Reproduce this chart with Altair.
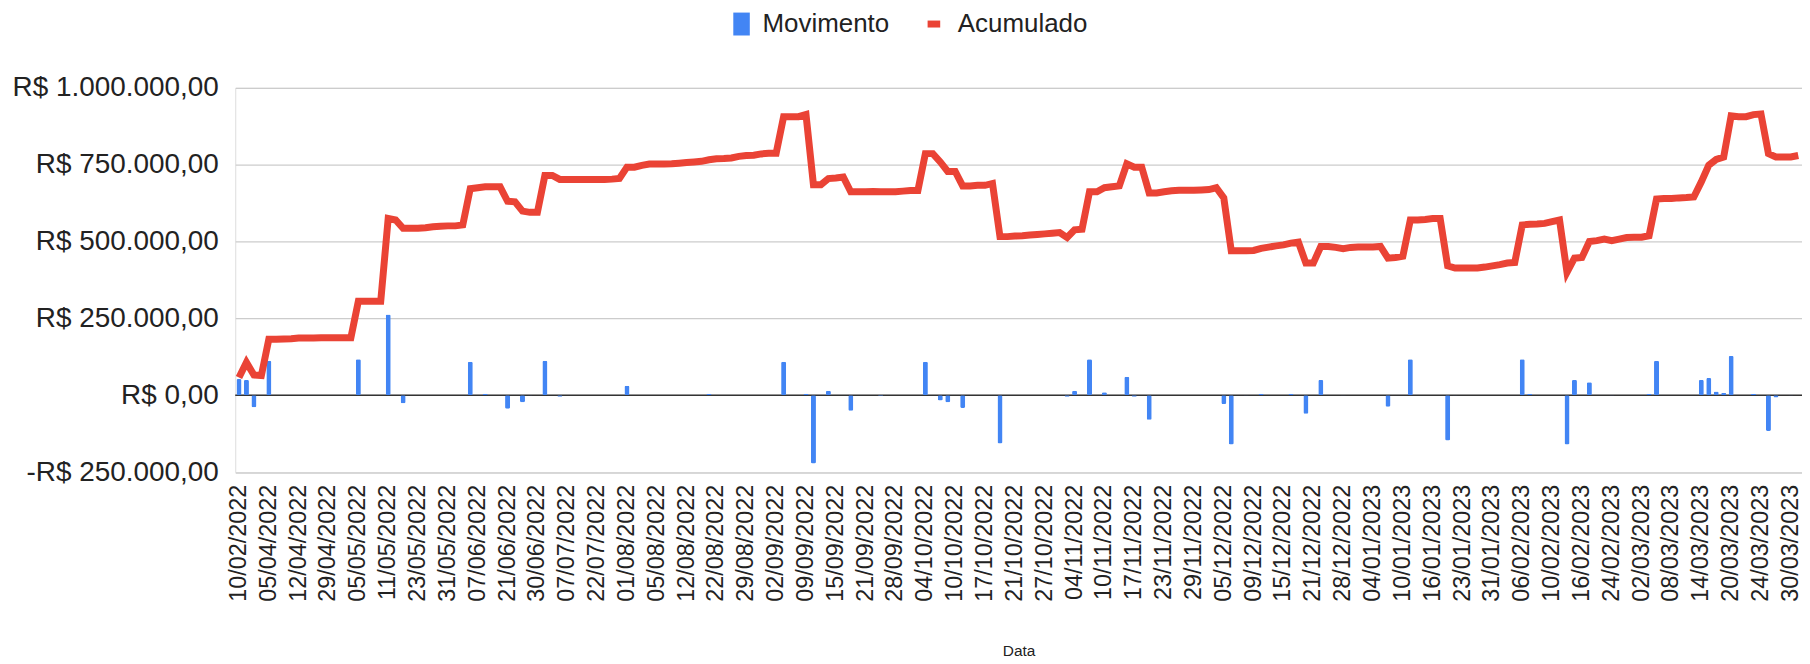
import json
import altair as alt
import pandas as pd

# ---- tick labels (every 4th category is labelled) ----
x_labels = [
    "10/02/2022", "05/04/2022", "12/04/2022", "29/04/2022", "05/05/2022", "11/05/2022",
    "23/05/2022", "31/05/2022", "07/06/2022", "21/06/2022", "30/06/2022", "07/07/2022",
    "22/07/2022", "01/08/2022", "05/08/2022", "12/08/2022", "22/08/2022", "29/08/2022",
    "02/09/2022", "09/09/2022", "15/09/2022", "21/09/2022", "28/09/2022", "04/10/2022",
    "10/10/2022", "17/10/2022", "21/10/2022", "27/10/2022", "04/11/2022", "10/11/2022",
    "17/11/2022", "23/11/2022", "29/11/2022", "05/12/2022", "09/12/2022", "15/12/2022",
    "21/12/2022", "28/12/2022", "04/01/2023", "10/01/2023", "16/01/2023", "23/01/2023",
    "31/01/2023", "06/02/2023", "10/02/2023", "16/02/2023", "24/02/2023", "02/03/2023",
    "08/03/2023", "14/03/2023", "20/03/2023", "24/03/2023", "30/03/2023",
]

y_ticks = [-250000, 0, 250000, 500000, 750000, 1000000]
y_tick_labels = ["-R$ 250.000,00", "R$ 0,00", "R$ 250.000,00",
                 "R$ 500.000,00", "R$ 750.000,00", "R$ 1.000.000,00"]

# ---- series (R$), one value per category ----
movimento = [
    53000, 50000, -39000, 0, 112000, 0, 0, 0, 0, 0,
    0, 0, 0, 0, 0, 0, 117000, 0, 0, 0,
    263000, 0, -26000, 0, 0, 0, 0, 0, 0, 0,
    0, 109000, 0, 5000, 0, 0, -44000, 0, -23000, 1000,
    0, 112000, 0, -5000, 0, 0, 0, 0, 0, 0,
    0, 0, 31000, 0, 0, 0, 0, 0, 0, 0,
    0, 0, 0, 5000, 0, 0, 0, 0, 0, 0,
    0, 0, 0, 109000, 0, 0, 5000, -222000, 0, 15000,
    0, 0, -50000, 0, 0, 0, -2000, 0, 0, 0,
    0, 0, 109000, 0, -17000, -23000, 0, -41000, 0, 0,
    0, 0, -157000, 0, 0, 0, 0, 0, 0, 0,
    0, -5000, 15000, 0, 117000, 0, 10000, 0, 0, 60000,
    -5000, 0, -80000, 0, 0, 0, 0, 0, 0, 0,
    0, 0, -28000, -160000, 0, 1000, 0, 5000, 0, 0,
    0, 5000, 0, -60000, 0, 50000, 0, 0, -1000, 0,
    0, 0, 0, 0, -37000, 0, 0, 117000, 0, 0,
    0, 0, -147000, -1000, 0, 0, 0, 0, 0, 0,
    0, 0, 117000, 5000, 0, 0, 0, 0, -160000, 50000,
    0, 42000, 0, 0, 1000, 0, 0, 0, 0, 5000,
    112000, 0, 0, 0, 0, 0, 50000, 56000, 12000, 7000,
    128000, 0, 0, 5000, 0, -116000, -7000, 0, 1000, 0,
]

acumulado = [
    58000, 107000, 66000, 64000, 182000, 182000, 183000, 184000, 186000, 186000,
    186000, 187000, 187000, 187000, 187000, 187000, 306000, 306000, 306000, 306000,
    575000, 570000, 543000, 543000, 543000, 545000, 548000, 550000, 551000, 551000,
    554000, 672000, 675000, 678000, 678000, 678000, 631000, 629000, 599000, 595000,
    595000, 715000, 715000, 702000, 702000, 702000, 702000, 702000, 702000, 702000,
    703000, 705000, 742000, 742000, 748000, 752000, 752000, 752000, 753000, 755000,
    757000, 759000, 761000, 766000, 769000, 770000, 772000, 777000, 780000, 781000,
    785000, 787000, 787000, 906000, 906000, 906000, 913000, 685000, 685000, 705000,
    707000, 710000, 662000, 662000, 662000, 663000, 662000, 662000, 662000, 664000,
    666000, 666000, 786000, 786000, 759000, 728000, 728000, 681000, 681000, 683000,
    683000, 689000, 516000, 516000, 518000, 519000, 521000, 523000, 525000, 527000,
    529000, 513000, 538000, 540000, 662000, 662000, 675000, 678000, 681000, 753000,
    742000, 742000, 658000, 658000, 662000, 665000, 667000, 667000, 667000, 668000,
    669000, 675000, 642000, 470000, 470000, 470000, 471000, 478000, 482000, 486000,
    489000, 495000, 498000, 430000, 430000, 484000, 484000, 481000, 477000, 481000,
    482000, 482000, 482000, 484000, 446000, 448000, 452000, 570000, 570000, 572000,
    575000, 575000, 421000, 414000, 414000, 414000, 414000, 417000, 421000, 425000,
    430000, 432000, 554000, 556000, 557000, 559000, 565000, 570000, 400000, 446000,
    448000, 500000, 503000, 508000, 503000, 508000, 513000, 514000, 514000, 519000,
    638000, 640000, 640000, 642000, 643000, 645000, 694000, 748000, 767000, 775000,
    909000, 906000, 906000, 913000, 915000, 786000, 775000, 775000, 775000, 780000,
]

n = len(acumulado)
df = pd.DataFrame({
    "i": list(range(n)),
    "Movimento": movimento,
    "Acumulado": acumulado,
    "s1": ["Movimento"] * n,
    "s2": ["Acumulado"] * n,
})
zero_df = pd.DataFrame({"v": [0]})

x_expr = json.dumps(x_labels) + "[floor(datum.value / 4)]"
y_expr = " : ".join(f"datum.value == {v} ? '{l}'" for v, l in zip(y_ticks, y_tick_labels)) + " : ''"

FONT = "Liberation Sans"
TXT = "#222222"

x_enc = alt.X(
    "i:O",
    title="Data",
    scale=alt.Scale(paddingInner=0.33, paddingOuter=0.165),
    axis=alt.Axis(
        values=list(range(0, n, 4)), labelExpr=x_expr, labelAngle=-90,
        labelFontSize=23.5, labelPadding=12, labelColor=TXT, labelFont=FONT,
        ticks=False, domain=False, grid=False,
        titleFontSize=15.5, titleFontWeight="normal", titleColor=TXT, titleFont=FONT,
        titlePadding=42,
    ),
)

y_axis = alt.Axis(
    values=y_ticks, labelExpr=y_expr, title=None,
    labelFontSize=28, labelPadding=17, labelColor=TXT, labelFont=FONT, labelLimit=0,
    ticks=False, domain=False, grid=True, gridColor="#cccccc", gridWidth=1.2,
)
y_scale = alt.Scale(domain=[-250000, 1000000], nice=False, zero=False)

zero_rule = alt.Chart(zero_df).mark_rule(color="#333333", strokeWidth=1.6).encode(
    y=alt.Y("v:Q", scale=y_scale, axis=y_axis)
)

bars = alt.Chart(df).mark_bar(cornerRadius=1.5).encode(
    x=x_enc,
    y=alt.Y("Movimento:Q", scale=y_scale, axis=y_axis),
    color=alt.Color(
        "s1:N",
        scale=alt.Scale(domain=["Movimento"], range=["#4285F4"]),
        legend=alt.Legend(
            title=None, orient="none", legendX=495, legendY=-77,
            symbolType="M-0.72,-1H0.72V1H-0.72Z", symbolSize=529,
            symbolStrokeWidth=0, labelFontSize=26, labelOffset=8,
            labelColor=TXT, labelFont=FONT,
        ),
    ),
)

line = alt.Chart(df).mark_line(strokeWidth=7, strokeJoin="miter").encode(
    x=x_enc,
    y=alt.Y("Acumulado:Q", scale=y_scale, axis=y_axis),
    color=alt.Color(
        "s2:N",
        scale=alt.Scale(domain=["Acumulado"], range=["#EA4335"]),
        legend=alt.Legend(
            title=None, orient="none", legendX=688, legendY=-77,
            symbolType="stroke", symbolSize=160, symbolStrokeWidth=7,
            labelFontSize=26, labelOffset=11, labelColor=TXT, labelFont=FONT,
        ),
    ),
)

chart = (
    alt.layer(zero_rule, bars, line)
    .resolve_scale(color="independent")
    .properties(
        width=1572, height=385.6,
        autosize=alt.AutoSizeParams(type="none"),
        padding={"left": 228, "top": 79, "right": 0, "bottom": 190},
        background="white",
    )
    .configure_view(stroke=None)
    .configure(font=FONT)
)

chart.save("out.html", embed_options={"renderer": "svg", "actions": False})
